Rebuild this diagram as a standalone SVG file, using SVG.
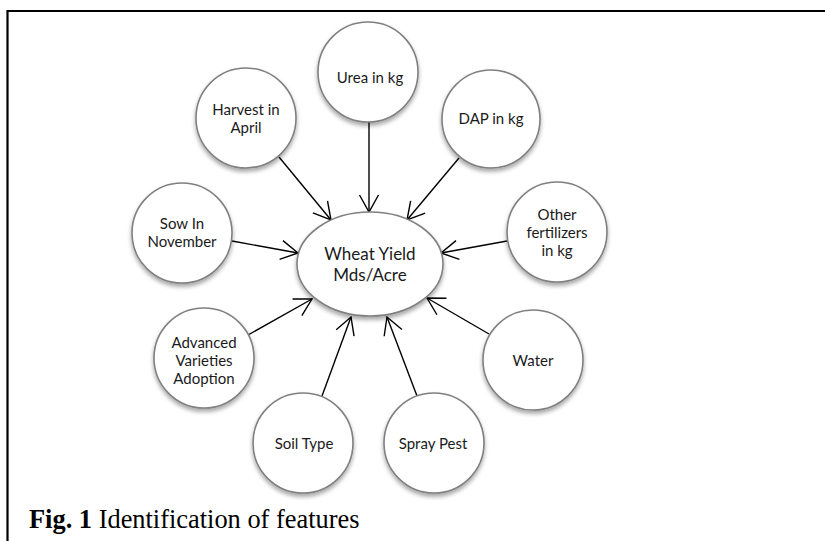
<svg xmlns="http://www.w3.org/2000/svg" width="825" height="541" viewBox="0 0 825 541">
<style>
.node ellipse,.node circle{fill:#fff;stroke:#808080;stroke-width:1.6;filter:url(#sh)}
.node text{font-family:Lato,"Open Sans","Liberation Sans",sans-serif;font-size:15px;fill:#1a1a1a;text-anchor:middle}
#center text{font-size:17px}
.edges line{stroke:#000;stroke-width:1.4;marker-end:url(#arr)}
.frame{stroke:#000;stroke-width:2.2;fill:none}
.cap{font-family:"Liberation Serif","Times New Roman",serif;font-size:26.4px;fill:#000}
</style>
<defs>
<filter id="sh" x="-20%" y="-20%" width="140%" height="150%">
<feDropShadow dx="0" dy="3" stdDeviation="2" flood-color="#000" flood-opacity="0.35"/>
</filter>
<marker id="arr" markerUnits="userSpaceOnUse" markerWidth="24" markerHeight="24" viewBox="-20 -12 24 24" refX="0" refY="0" orient="auto">
<path d="M-17,-9.5 L0,0 L-17,9.5" fill="none" stroke="#000" stroke-width="1.4"/>
</marker>
</defs>
<rect width="825" height="541" fill="#fff"/>
<path class="frame" d="M7.5,541 V11 H825"/>
<g class="edges">
<line x1="279" y1="157" x2="331" y2="220"/>
<line x1="369" y1="122" x2="369" y2="212"/>
<line x1="459" y1="158" x2="407" y2="220"/>
<line x1="232" y1="241" x2="298" y2="253"/>
<line x1="507" y1="241" x2="441" y2="253"/>
<line x1="248" y1="335" x2="312" y2="299"/>
<line x1="489" y1="334" x2="427" y2="298"/>
<line x1="322" y1="396" x2="351" y2="317"/>
<line x1="417" y1="396" x2="387" y2="317"/>
</g>
<g id="center" class="node"><ellipse cx="370" cy="264" rx="73" ry="52"/><text x="370" y="260">Wheat Yield</text><text x="370" y="281">Mds/Acre</text></g>
<g id="urea" class="node"><circle cx="368" cy="72" r="50"/><text x="370" y="83">Urea in kg</text></g>
<g id="harvest" class="node"><circle cx="246" cy="118" r="50"/><text x="246" y="115">Harvest in</text><text x="246" y="133">April</text></g>
<g id="dap" class="node"><circle cx="491" cy="119" r="49"/><text x="491" y="124">DAP in kg</text></g>
<g id="sow" class="node"><circle cx="182" cy="233" r="50"/><text x="182" y="229">Sow In</text><text x="182" y="247">November</text></g>
<g id="other" class="node"><circle cx="557" cy="232" r="50"/><text x="557" y="220">Other</text><text x="557" y="238">fertilizers</text><text x="557" y="256">in kg</text></g>
<g id="advanced" class="node"><circle cx="204" cy="358" r="50"/><text x="204" y="348">Advanced</text><text x="204" y="366">Varieties</text><text x="204" y="384">Adoption</text></g>
<g id="water" class="node"><circle cx="533" cy="360" r="50"/><text x="533" y="366">Water</text></g>
<g id="soil" class="node"><circle cx="303" cy="443" r="50"/><text x="304" y="449">Soil Type</text></g>
<g id="spray" class="node"><circle cx="434" cy="443" r="50"/><text x="433" y="449">Spray Pest</text></g>
<text class="cap" x="29" y="528"><tspan font-weight="bold">Fig. 1</tspan> Identification of features</text>
</svg>
